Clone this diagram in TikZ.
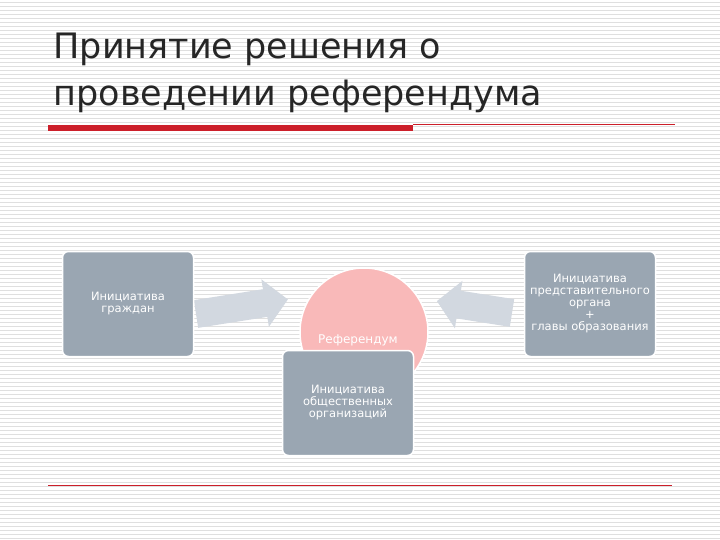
\documentclass[tikz,border=0pt]{standalone}
\usepackage{fontspec}
\setmainfont{DejaVu Sans}
\definecolor{boxc}{HTML}{9AA6B2}
\definecolor{arrc}{HTML}{D2D8E0}
\definecolor{pinkc}{HTML}{F9B9B9}
\definecolor{redc}{HTML}{CC1F2A}
\tikzset{
 box/.style={draw=white,line width=1.5pt,fill=boxc,rounded corners=6pt,minimum width=131pt,minimum height=105pt,text=white,align=center,font=\fontsize{11.5}{12}\selectfont},
 arrshape/.style={fill=arrc}
}
\begin{document}
\begin{tikzpicture}[x=1pt,y=-1pt]
\useasboundingbox (0,0) rectangle (720,540);
\fill[white] (0,0) rectangle (720,540);
\foreach \y in {2,6,...,538} \draw[gray!25,line width=0.6pt] (0,\y) -- (720,\y);
\node[anchor=west,font=\fontsize{35}{47}\selectfont,align=left,text=black!85] (title) at (50,73) {Принятие решения о\\проведении референдума};
\fill[redc] (48,125) rectangle (413,131);
\draw[redc,line width=0.7pt] (413,124.5) -- (675,124.5);
\draw[redc,line width=1pt] (48,485) -- (672,485);
\node[circle,fill=pinkc,draw=white,line width=1.5pt,minimum size=128pt] (c) at (364,332) {};
\begin{scope}[shift={(196,314)},rotate=9]
\fill[arrshape] (0,-14) -- (70,-14) -- (70,-24) -- (93,0) -- (70,24) -- (70,14) -- (0,14) -- cycle;
\end{scope}
\begin{scope}[shift={(512,313)},rotate=-9]
\fill[arrshape] (0,-14) -- (-54,-14) -- (-54,-24) -- (-76,0) -- (-54,24) -- (-54,14) -- (0,14) -- cycle;
\end{scope}
\node[text=white,font=\fontsize{12}{14}\selectfont] (ref) at (358,340) {Референдум};
\node[box] (a) at (128,304) {Инициатива\\граждан};
\node[box] (b) at (590,304) {Инициатива\\представительного\\органа\\+\\главы образования};
\node[box] (d) at (348,403) {Инициатива\\общественных\\организаций};
\end{tikzpicture}
\end{document}
